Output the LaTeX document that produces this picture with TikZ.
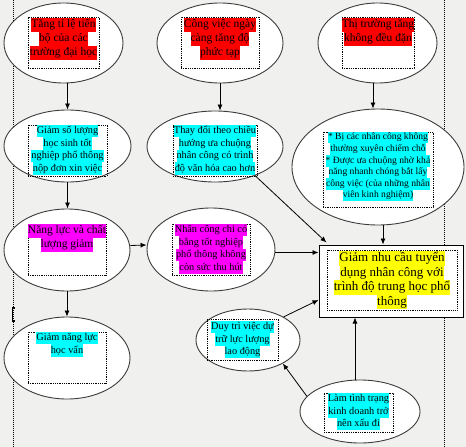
\documentclass[tikz,border=0pt]{standalone}
\usepackage{fontspec}
\setmainfont{Liberation Serif}
\usetikzlibrary{arrows.meta,shapes.geometric}
\definecolor{bg}{RGB}{240,240,238}
\definecolor{hlred}{RGB}{255,0,0}
\definecolor{hlcyan}{RGB}{0,255,255}
\definecolor{hlmag}{RGB}{255,0,255}
\definecolor{hlyel}{RGB}{255,255,0}
\definecolor{edge}{RGB}{60,60,60}
\setlength{\fboxsep}{0pt}
\newcommand{\hl}[2]{\colorbox{#1}{\strut #2}}
\tikzset{
  oval/.style={ellipse, draw=edge, line width=0.9pt, fill=white, inner sep=0pt},
  tbox/.style={draw=black, line width=0.7pt, dash pattern=on 0.9pt off 0.9pt, inner sep=0pt},
  txt/.style={anchor=north, align=center, inner sep=0pt},
  fbig/.style={font=\fontsize{11.5}{14}\selectfont},
  fsmall/.style={font=\fontsize{10.3}{12.5}\selectfont},
  ftiny/.style={font=\fontsize{9.6}{11.6}\selectfont},
  ftarget/.style={font=\fontsize{13}{14.5}\selectfont},
  arr/.style={-{Latex[length=6pt,width=5pt]}, line width=0.8pt, black},
  guide/.style={black, line width=0.8pt, dash pattern=on 1pt off 1pt},
}
\begin{document}
\begin{tikzpicture}[x=1pt,y=-1pt]
\useasboundingbox (0,0) rectangle (466,447);
\fill[bg] (0,0) rectangle (466,447);
% dotted guide lines
\draw[guide] (13,0) -- (13,447);
\draw[guide] (444,0) -- (444,447);
\draw[line width=1.2pt] (14.5,308) -- (12.5,308) -- (12.5,321) -- (14.5,321);

% ellipses
\node[oval, minimum width=119pt, minimum height=80pt] (e1) at (63.5,43) {};
\node[oval, minimum width=126pt, minimum height=80pt] (e2) at (220,43) {};
\node[oval, minimum width=119pt, minimum height=80pt] (e3) at (377.5,43) {};
\node[oval, minimum width=127pt, minimum height=72pt] (e4) at (67.5,146) {};
\node[oval, minimum width=136pt, minimum height=71pt] (e5) at (215,146.5) {};
\node[oval, minimum width=172pt, minimum height=116pt] (e6) at (378,167) {};
\node[oval, minimum width=126pt, minimum height=82pt] (e7) at (67,250) {};
\node[oval, minimum width=128pt, minimum height=83pt] (e8) at (211,249.5) {};
\node[oval, minimum width=126pt, minimum height=82pt] (e9) at (67,358) {};
\node[oval, minimum width=104pt, minimum height=62pt] (e10) at (248,340) {};
\node[oval, minimum width=120pt, minimum height=63pt] (e11) at (360,411.5) {};
\node[draw=black, line width=1pt, fill=white, minimum width=144pt, minimum height=72pt, inner sep=0pt] (tgt) at (391,281) {};

% dotted text boxes
\node[tbox, minimum width=71pt, minimum height=51pt] (b1) at (63.5,42.5) {};
\node[tbox, minimum width=78pt, minimum height=51pt] (b2) at (220,42.5) {};
\node[tbox, minimum width=72pt, minimum height=51pt] (b3) at (378,42.5) {};
\node[tbox, minimum width=79pt, minimum height=51pt] (b4) at (67.5,150.5) {};
\node[tbox, minimum width=84pt, minimum height=51pt] (b5) at (215,150.5) {};
\node[tbox, minimum width=110pt, minimum height=75pt] (b6) at (378,169.5) {};
\node[tbox, minimum width=78pt, minimum height=51pt] (b7) at (67,249.5) {};
\node[tbox, minimum width=78pt, minimum height=51pt] (b8) at (211,249.5) {};
\node[tbox, minimum width=78pt, minimum height=51pt] (b9) at (67,357.5) {};
\node[tbox, minimum width=71pt, minimum height=41pt] (b10) at (242.5,339.5) {};
\node[tbox, minimum width=69pt, minimum height=39pt] (b11) at (358.5,412.5) {};
\node[tbox, minimum width=130pt, minimum height=60pt] (bt) at (392,280) {};

% texts
\node[txt, fbig, yshift=-1pt] (t1) at (b1.north) {\hl{hlred}{Tăng tỉ lệ tiến}\\\hl{hlred}{bộ của các}\\\hl{hlred}{trường đại học}};
\node[txt, fbig, yshift=-1pt] (t2) at (b2.north) {\hl{hlred}{Công việc ngày}\\\hl{hlred}{càng tăng độ}\\\hl{hlred}{phức tạp}};
\node[txt, fbig, yshift=-1pt] (t3) at (b3.north) {\hl{hlred}{Thị trường tăng}\\\hl{hlred}{không đều đặn}};
\node[txt, fsmall] (t4) at (b4.north) {\hl{hlcyan}{Giảm số lượng}\\\hl{hlcyan}{học sinh tốt}\\\hl{hlcyan}{nghiệp phổ thông}\\\hl{hlcyan}{nộp đơn xin việc}};
\node[txt, fsmall] (t5) at (b5.north) {\hl{hlcyan}{Thay đổi theo chiều}\\\hl{hlcyan}{hướng ưa chuộng}\\\hl{hlcyan}{nhân công có trình}\\\hl{hlcyan}{độ văn hóa cao hơn}};
\node[txt, ftiny] (t6) at (b6.north) {\hl{hlcyan}{* Bị các nhân công không}\\\hl{hlcyan}{thường xuyên chiếm chỗ}\\\hl{hlcyan}{* Được ưa chuộng nhờ khả}\\\hl{hlcyan}{năng nhanh chóng bắt lấy}\\\hl{hlcyan}{công việc (của những nhân}\\\hl{hlcyan}{viên kinh nghiệm)}};
\node[txt, fbig] (t7) at (b7.north) {\hl{hlmag}{Năng lực và chất}\\\hl{hlmag}{lượng giảm}};
\node[txt, fsmall] (t8) at (b8.north) {\hl{hlmag}{Nhân công chỉ có}\\\hl{hlmag}{bằng tốt nghiệp}\\\hl{hlmag}{phổ thông không}\\\hl{hlmag}{còn sức thu hút}};
\node[txt, fsmall] (t9) at (b9.north) {\hl{hlcyan}{Giảm năng lực}\\\hl{hlcyan}{học vấn}};
\node[txt, fsmall, yshift=-2pt] (t10) at (b10.north) {\hl{hlcyan}{Duy trì việc dự}\\\hl{hlcyan}{trữ lực lượng}\\\hl{hlcyan}{lao động}};
\node[txt, fsmall] (t11) at (b11.north) {\hl{hlcyan}{Làm tình trạng}\\\hl{hlcyan}{kinh doanh trở}\\\hl{hlcyan}{nên xấu đi}};
\node[txt, ftarget, yshift=-1.5pt] (tt) at (bt.north) {\hl{hlyel}{Giảm nhu cầu tuyển}\\\hl{hlyel}{dụng nhân công với}\\\hl{hlyel}{trình độ trung học phổ}\\\hl{hlyel}{thông}};

% connectors
\draw[arr] (e1.south -| e4.north) -- (e4.north);
\draw[arr] (e2.south) -- (e2.south |- e5.north);
\draw[arr] ([xshift=-4.5pt]e3.south) -- ([xshift=-4.5pt]e3.south |- e6.north);
\draw[arr] (e4.south) -- (e4.south |- e7.north);
\draw[arr] ([yshift=4.5pt]e7.east) -- ([yshift=4.5pt]e8.west);
\draw[arr] (e7.south) -- (e9.north);
\draw[arr] ([yshift=-3pt]e8.east) -- ([yshift=-3pt]e8.east -| tgt.west);
\draw[arr] (e5.-36) -- ([xshift=8pt,yshift=2pt]tgt.north west);
\draw[arr] ([xshift=5pt]e6.south) -- ([xshift=5pt]e6.south |- tgt.north);
\draw[arr] (e10.33) -- ([yshift=-19pt]tgt.west);
\draw[arr] (e11.164) -- (e10.-34);
\draw[arr] ([xshift=-5pt]e11.north) -- ([xshift=-5pt]e11.north |- tgt.south);
\end{tikzpicture}
\end{document}
